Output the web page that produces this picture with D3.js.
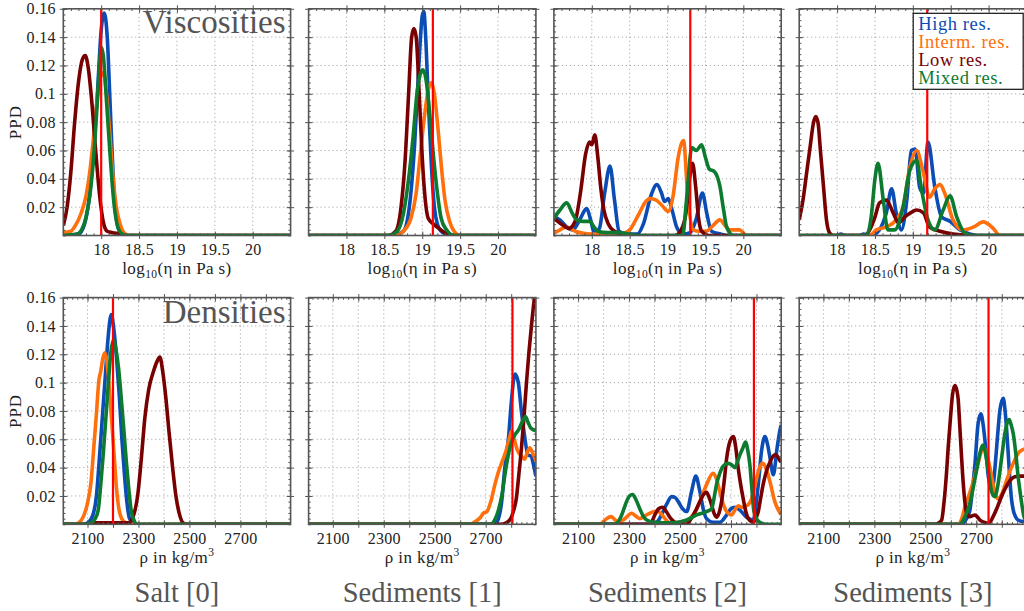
<!DOCTYPE html>
<html>
<head>
<meta charset="utf-8">
<script src="https://cdn.jsdelivr.net/npm/d3@7"></script>
<style>
  body { margin: 0; background: #fff; }
  svg { display: block; font-family: "Liberation Serif", serif; }
  .tick text { font-family: "Liberation Serif", serif; }
</style>
</head>
<body>
<div id="container"></div>
<script>
// series order: High, Interm., Low, Mixed resolution
var seriesNames = ["High res.", "Interm. res.", "Low res.", "Mixed res."];
var seriesColors = ["#0b4cb5", "#ff6f0c", "#780000", "#0c7b2f"];
var layerNames = ["Salt [0]", "Sediments [1]", "Sediments [2]", "Sediments [3]"];

var viscTicks = [18, 18.5, 19, 19.5, 20];
var densTicks = [2100, 2200, 2300, 2400, 2500, 2600, 2700, 2800];
var ppdTicks = [0.02, 0.04, 0.06, 0.08, 0.1, 0.12, 0.14, 0.16];

// true values (red lines)
var viscTrue = [18.0, 19.14, 19.3, 19.19];
var densTrue = [2200, 2805, 2790, 2748];

// viscosity PPDs, log10(eta)
var viscSalt = [
  [[17.5,0],[17.7,0.001],[17.78,0.008],[17.85,0.03],[17.9,0.06],[17.95,0.1],[18.0,0.145],[18.04,0.157],[18.08,0.14],[18.12,0.09],[18.16,0.04],[18.2,0.012],[18.25,0.002],[18.3,0],[20.5,0]],
  [[17.5,0.002],[17.6,0.003],[17.67,0.008],[17.73,0.015],[17.8,0.028],[17.85,0.045],[17.9,0.07],[17.95,0.097],[17.99,0.112],[18.03,0.115],[18.07,0.1],[18.11,0.075],[18.15,0.045],[18.2,0.02],[18.25,0.008],[18.3,0.002],[18.36,0],[20.5,0]],
  [[17.5,0.007],[17.55,0.02],[17.6,0.045],[17.65,0.08],[17.7,0.108],[17.75,0.124],[17.79,0.127],[17.83,0.118],[17.88,0.092],[17.93,0.058],[17.98,0.028],[18.03,0.009],[18.08,0.003],[18.15,0.002],[18.25,0.001],[18.32,0],[20.5,0]],
  [[17.5,0],[17.68,0.001],[17.75,0.005],[17.8,0.013],[17.85,0.028],[17.9,0.055],[17.95,0.095],[17.98,0.122],[18.0,0.133],[18.03,0.126],[18.07,0.095],[18.12,0.055],[18.17,0.022],[18.22,0.006],[18.28,0.001],[18.35,0],[20.5,0]]
];
var viscSed1 = [
  [[17.5,0],[18.6,0],[18.75,0.003],[18.8,0.01],[18.85,0.03],[18.9,0.065],[18.95,0.115],[19.0,0.155],[19.02,0.158],[19.05,0.135],[19.08,0.095],[19.12,0.05],[19.16,0.02],[19.2,0.008],[19.25,0.003],[19.32,0.001],[19.4,0],[20.5,0]],
  [[17.5,0],[18.65,0],[18.75,0.003],[18.85,0.012],[18.92,0.03],[18.97,0.055],[19.02,0.08],[19.07,0.1],[19.12,0.108],[19.16,0.1],[19.2,0.08],[19.25,0.05],[19.3,0.025],[19.36,0.01],[19.42,0.003],[19.5,0],[20.5,0]],
  [[17.5,0],[18.55,0],[18.65,0.003],[18.72,0.02],[18.77,0.05],[18.82,0.1],[18.86,0.14],[18.89,0.146],[18.92,0.14],[18.96,0.1],[19.0,0.055],[19.04,0.025],[19.08,0.012],[19.15,0.008],[19.22,0.005],[19.3,0.002],[19.4,0],[20.5,0]],
  [[17.5,0],[18.55,0],[18.67,0.003],[18.75,0.015],[18.82,0.04],[18.88,0.07],[18.93,0.1],[18.98,0.115],[19.01,0.117],[19.05,0.11],[19.1,0.085],[19.15,0.055],[19.2,0.03],[19.25,0.012],[19.32,0.004],[19.42,0],[20.5,0]]
];
var viscSed2 = [
  [[17.5,0.013],[17.58,0.011],[17.67,0.006],[17.75,0.004],[17.85,0.012],[17.93,0.019],[17.99,0.01],[18.03,0.002],[18.1,0.005],[18.17,0.03],[18.24,0.049],[18.3,0.025],[18.36,0.003],[18.45,0.001],[18.6,0.001],[18.68,0.008],[18.78,0.028],[18.86,0.036],[18.92,0.03],[18.96,0.024],[19.01,0.026],[19.06,0.018],[19.12,0.006],[19.2,0.001],[19.3,0.002],[19.38,0.012],[19.46,0.03],[19.52,0.015],[19.58,0.003],[19.7,0.001],[19.8,0],[20.5,0]],
  [[17.5,0.0015],[17.58,0.004],[17.67,0.006],[17.78,0.003],[17.89,0.0015],[18.0,0.001],[18.37,0.001],[18.5,0.004],[18.57,0.01],[18.63,0.016],[18.7,0.023],[18.77,0.026],[18.85,0.025],[18.93,0.021],[19.01,0.017],[19.07,0.027],[19.14,0.055],[19.21,0.067],[19.27,0.025],[19.34,0.004],[19.42,0.003],[19.51,0.003],[19.6,0.007],[19.69,0.011],[19.76,0.007],[19.82,0.004],[19.95,0.004],[20.04,0],[20.5,0]],
  [[17.5,0.012],[17.6,0.008],[17.7,0.005],[17.78,0.01],[17.85,0.03],[17.92,0.058],[17.97,0.066],[18.0,0.064],[18.04,0.071],[18.08,0.055],[18.12,0.033],[18.16,0.018],[18.22,0.008],[18.3,0.003],[18.4,0.001],[18.5,0],[19.1,0],[19.18,0.004],[19.24,0.015],[19.29,0.04],[19.33,0.051],[19.37,0.035],[19.41,0.012],[19.45,0.003],[19.55,0],[20.5,0]],
  [[17.5,0.012],[17.58,0.018],[17.67,0.023],[17.74,0.016],[17.8,0.011],[17.88,0.01],[17.97,0.01],[18.03,0.006],[18.08,0.003],[18.2,0.002],[18.33,0.002],[18.5,0.001],[18.6,0],[19.2,0],[19.25,0.025],[19.32,0.062],[19.38,0.06],[19.45,0.064],[19.5,0.055],[19.55,0.047],[19.62,0.045],[19.69,0.035],[19.74,0.018],[19.78,0.006],[19.87,0],[20.5,0]]
];
var viscSed3 = [
  [[17.5,0],[18.0,0],[18.05,0.001],[18.1,0],[18.3,0],[18.35,0.001],[18.42,0],[18.5,0.001],[18.56,0.004],[18.65,0.016],[18.72,0.033],[18.78,0.016],[18.85,0.004],[18.92,0.025],[18.98,0.06],[19.03,0.061],[19.09,0.034],[19.14,0.03],[19.2,0.066],[19.29,0.034],[19.38,0.013],[19.49,0.01],[19.62,0.004],[19.75,0.001],[19.85,0],[20.5,0]],
  [[17.5,0],[18.43,0],[18.52,0.004],[18.65,0.006],[18.78,0.011],[18.87,0.02],[18.96,0.048],[19.05,0.06],[19.14,0.044],[19.22,0.027],[19.29,0.033],[19.36,0.036],[19.42,0.03],[19.53,0.011],[19.66,0.004],[19.8,0.006],[19.93,0.0096],[20.06,0.005],[20.15,0],[20.5,0]],
  [[17.5,0.011],[17.55,0.025],[17.6,0.045],[17.65,0.065],[17.69,0.08],[17.72,0.084],[17.75,0.079],[17.78,0.06],[17.82,0.035],[17.86,0.011],[17.9,0.002],[17.95,0],[18.37,0],[18.43,0.004],[18.5,0.013],[18.56,0.023],[18.65,0.025],[18.74,0.016],[18.81,0.009],[18.89,0.013],[18.97,0.016],[19.05,0.018],[19.14,0.016],[19.22,0.006],[19.36,0.003],[19.53,0.001],[19.8,0],[20.5,0]],
  [[17.5,0],[18.39,0],[18.45,0.013],[18.5,0.04],[18.54,0.051],[18.61,0.025],[18.67,0.004],[18.76,0.004],[18.87,0.02],[18.96,0.046],[19.05,0.053],[19.11,0.034],[19.2,0.011],[19.29,0.004],[19.4,0.018],[19.49,0.028],[19.58,0.013],[19.69,0.0015],[19.8,0],[20.5,0]]
];

// density PPDs, kg/m3
var densSalt = [
  [[2005,0],[2085,0],[2100,0.001],[2120,0.006],[2135,0.02],[2148,0.05],[2160,0.08],[2170,0.105],[2180,0.13],[2193,0.148],[2205,0.135],[2215,0.115],[2225,0.09],[2235,0.06],[2245,0.035],[2255,0.015],[2265,0.004],[2280,0.001],[2290,0],[2897,0]],
  [[2005,0],[2050,0],[2065,0.001],[2085,0.006],[2100,0.015],[2114,0.03],[2125,0.055],[2135,0.078],[2145,0.102],[2152,0.108],[2160,0.117],[2168,0.121],[2176,0.115],[2184,0.1],[2194,0.075],[2204,0.05],[2214,0.025],[2224,0.01],[2234,0.004],[2250,0.001],[2270,0],[2897,0]],
  [[2005,0],[2100,0],[2120,0.001],[2260,0.001],[2280,0.006],[2298,0.022],[2312,0.048],[2325,0.075],[2340,0.095],[2359,0.108],[2373,0.115],[2384,0.118],[2395,0.108],[2407,0.09],[2420,0.065],[2434,0.04],[2447,0.02],[2461,0.007],[2475,0.001],[2490,0],[2897,0]],
  [[2005,0],[2100,0],[2115,0.001],[2130,0.004],[2142,0.01],[2152,0.028],[2162,0.05],[2172,0.075],[2182,0.1],[2192,0.122],[2202,0.13],[2212,0.123],[2222,0.11],[2232,0.09],[2242,0.068],[2252,0.045],[2262,0.025],[2272,0.009],[2282,0.003],[2295,0],[2897,0]]
];
var densSed1 = [
  [[2005,0],[2735,0],[2750,0.004],[2762,0.015],[2775,0.04],[2790,0.062],[2800,0.085],[2815,0.106],[2828,0.1],[2840,0.08],[2852,0.063],[2866,0.049],[2878,0.048],[2890,0.04],[2897,0.034]],
  [[2005,0],[2640,0],[2660,0.002],[2680,0.005],[2692,0.008],[2705,0.009],[2720,0.016],[2736,0.028],[2750,0.037],[2764,0.044],[2780,0.052],[2792,0.06],[2802,0.066],[2812,0.06],[2825,0.052],[2840,0.048],[2852,0.046],[2862,0.05],[2873,0.054],[2885,0.05],[2897,0.045]],
  [[2005,0],[2760,0],[2780,0.001],[2798,0.004],[2810,0.01],[2820,0.018],[2830,0.035],[2840,0.053],[2850,0.075],[2860,0.1],[2870,0.122],[2880,0.141],[2890,0.158],[2897,0.168]],
  [[2005,0],[2720,0],[2735,0.003],[2750,0.01],[2765,0.022],[2777,0.037],[2790,0.05],[2805,0.06],[2818,0.064],[2830,0.067],[2845,0.073],[2856,0.076],[2866,0.072],[2877,0.068],[2897,0.066]]
];
var densSed2 = [
  [[2005,0],[2395,0],[2412,0.002],[2427,0.0066],[2447,0.014],[2467,0.0195],[2480,0.019],[2493,0.016],[2510,0.011],[2526,0.009],[2545,0.023],[2562,0.034],[2578,0.023],[2592,0.01],[2604,0.004],[2630,0.0014],[2656,0.0014],[2683,0.0066],[2700,0.011],[2715,0.012],[2735,0.01],[2761,0.005],[2787,0.003],[2807,0.028],[2820,0.052],[2833,0.062],[2845,0.055],[2853,0.047],[2866,0.035],[2881,0.054],[2894,0.068],[2897,0.07]],
  [[2005,0],[2185,0],[2200,0.002],[2212,0.004],[2231,0.0054],[2245,0.003],[2257,0.002],[2277,0.003],[2295,0.006],[2310,0.0078],[2325,0.006],[2342,0.004],[2362,0.006],[2382,0.0078],[2400,0.009],[2414,0.009],[2428,0.007],[2441,0.004],[2460,0.001],[2499,0.001],[2520,0.002],[2539,0.004],[2560,0.009],[2578,0.016],[2604,0.028],[2630,0.036],[2643,0.032],[2656,0.023],[2670,0.014],[2683,0.009],[2702,0.0066],[2715,0.01],[2728,0.013],[2742,0.012],[2754,0.0125],[2768,0.014],[2781,0.018],[2790,0.024],[2800,0.032],[2812,0.04],[2826,0.043],[2840,0.038],[2853,0.03],[2872,0.016],[2889,0.009],[2897,0.007]],
  [[2005,0],[2380,0],[2390,0.002],[2401,0.0066],[2416,0.011],[2431,0.012],[2446,0.009],[2460,0.005],[2475,0.002],[2486,0.0007],[2526,0],[2540,0.003],[2552,0.0066],[2565,0.011],[2578,0.016],[2592,0.021],[2604,0.0226],[2614,0.019],[2624,0.0136],[2633,0.008],[2643,0.005],[2653,0.008],[2663,0.016],[2673,0.03],[2683,0.0466],[2695,0.058],[2709,0.062],[2718,0.055],[2728,0.04],[2738,0.028],[2748,0.018],[2758,0.009],[2768,0.004],[2787,0.0014],[2797,0.004],[2807,0.009],[2816,0.018],[2826,0.028],[2840,0.038],[2853,0.044],[2872,0.049],[2882,0.048],[2892,0.045],[2897,0.044]],
  [[2005,0],[2244,0],[2258,0.002],[2271,0.0066],[2280,0.011],[2290,0.016],[2302,0.02],[2314,0.021],[2328,0.017],[2342,0.011],[2355,0.006],[2369,0.003],[2401,0.0014],[2473,0.001],[2526,0.003],[2565,0.0066],[2604,0.009],[2624,0.011],[2633,0.018],[2643,0.028],[2656,0.036],[2669,0.041],[2689,0.043],[2702,0.042],[2715,0.04],[2725,0.044],[2735,0.049],[2747,0.054],[2757,0.058],[2766,0.052],[2774,0.042],[2782,0.025],[2790,0.009],[2800,0.004],[2813,0.0014],[2840,0],[2897,0]]
];
var densSed3 = [
  [[2005,0],[2640,0],[2649,0.001],[2662,0.004],[2675,0.01],[2685,0.025],[2695,0.043],[2707,0.071],[2718,0.078],[2727,0.07],[2734,0.059],[2747,0.034],[2760,0.024],[2768,0.03],[2777,0.048],[2786,0.068],[2793,0.081],[2806,0.089],[2813,0.08],[2819,0.067],[2826,0.048],[2832,0.031],[2838,0.018],[2845,0.01],[2855,0.005],[2864,0.003],[2887,0.002],[2897,0.002]],
  [[2005,0],[2630,0],[2643,0.004],[2655,0.012],[2668,0.019],[2682,0.0265],[2695,0.035],[2707,0.043],[2717,0.05],[2727,0.055],[2735,0.052],[2743,0.048],[2752,0.041],[2760,0.034],[2767,0.027],[2773,0.022],[2786,0.018],[2796,0.02],[2806,0.024],[2815,0.029],[2825,0.034],[2835,0.039],[2845,0.043],[2855,0.047],[2864,0.05],[2876,0.052],[2887,0.053],[2897,0.054]],
  [[2005,0],[2540,0],[2552,0.001],[2564,0.003],[2573,0.015],[2583,0.036],[2590,0.055],[2599,0.076],[2607,0.092],[2616,0.098],[2623,0.095],[2629,0.088],[2635,0.07],[2642,0.048],[2650,0.026],[2662,0.0078],[2675,0.0054],[2685,0.006],[2695,0.0066],[2705,0.005],[2714,0.003],[2730,0.0015],[2747,0.0007],[2756,0.002],[2766,0.0054],[2780,0.011],[2793,0.017],[2810,0.024],[2825,0.029],[2838,0.032],[2851,0.0336],[2870,0.034],[2884,0.034],[2897,0.034]],
  [[2005,0],[2635,0],[2649,0.003],[2662,0.008],[2675,0.015],[2688,0.026],[2701,0.038],[2714,0.05],[2727,0.056],[2735,0.051],[2743,0.043],[2752,0.032],[2760,0.023],[2773,0.0195],[2783,0.026],[2793,0.038],[2803,0.052],[2812,0.064],[2820,0.071],[2829,0.074],[2837,0.07],[2845,0.064],[2855,0.05],[2864,0.034],[2871,0.024],[2878,0.015],[2887,0.0054],[2897,0.002]]
];

var viscPanels = [viscSalt, viscSed1, viscSed2, viscSed3];
var densPanels = [densSalt, densSed1, densSed2, densSed3];

var width = 1024, height = 611;
var colLeft = 63.3, colStep = 245.3, panelW = 227.3;

var rows = [
  {top: 8.8, h: 226.7, domain: [17.5, 20.5], ticks: viscTicks, minorStep: 0.1,
   panels: viscPanels, truth: viscTrue, label: "log", title: "Viscosities",
   fmt: function(d){ return d; }},
  {top: 297.6, h: 226.7, domain: [2005, 2897], ticks: densTicks, minorStep: 20,
   panels: densPanels, truth: densTrue, label: "rho", title: "Densities",
   fmt: function(d){ return d % 200 === 100 ? d : ""; }}
];

var svg = d3.select("#container").append("svg")
            .attr("width", width).attr("height", height);

var y = d3.scaleLinear().domain([0, 0.16]);

rows.forEach(function(row, r){
  y.range([row.h, 0]);
  var yMinor = d3.range(0, 0.1601, 0.004);

  row.panels.forEach(function(series, c){
    var left = colLeft + c * colStep;
    var g = svg.append("g").attr("transform", "translate(" + left + "," + row.top + ")");
    var x = d3.scaleLinear().domain(row.domain).range([0, panelW]);
    var xMinor = d3.range(Math.ceil(row.domain[0] / row.minorStep) * row.minorStep, row.domain[1], row.minorStep);

    // grid
    var grid = g.append("g").attr("stroke", "#9a9a9a").attr("stroke-width", 1)
                .attr("stroke-dasharray", "1,3");
    grid.selectAll(".gx").data(row.ticks).enter().append("line")
        .attr("x1", function(d){ return x(d); }).attr("x2", function(d){ return x(d); })
        .attr("y1", 0).attr("y2", row.h);
    grid.selectAll(".gy").data(ppdTicks).enter().append("line")
        .attr("x1", 0).attr("x2", panelW)
        .attr("y1", function(d){ return y(d); }).attr("y2", function(d){ return y(d); });

    // curves
    var clipId = "clip" + r + c;
    g.append("clipPath").attr("id", clipId).append("rect")
     .attr("x", 0).attr("y", 0).attr("width", panelW).attr("height", row.h);

    var line = d3.line()
                 .x(function(d){ return x(d[0]); })
                 .y(function(d){ return y(d[1]); })
                 .curve(d3.curveMonotoneX);

    var curves = g.append("g").attr("clip-path", "url(#" + clipId + ")");
    curves.selectAll("path").data(series).enter().append("path")
          .attr("d", line)
          .attr("fill", "none")
          .attr("stroke", function(d, i){ return seriesColors[i]; })
          .attr("stroke-width", 3.6)
          .attr("stroke-linejoin", "round");

    curves.append("line")
          .attr("x1", x(row.truth[c])).attr("x2", x(row.truth[c]))
          .attr("y1", 0).attr("y2", row.h)
          .attr("stroke", "#ff0000").attr("stroke-width", 2.2);

    // axes: major ticks crossing the frame, minor ticks inside
    var bottom = g.append("g").attr("transform", "translate(0," + row.h + ")");
    bottom.call(d3.axisBottom(x).tickValues(row.ticks).tickSize(3.5).tickPadding(5).tickFormat(row.fmt));
    bottom.append("g").call(d3.axisBottom(x).tickValues(row.ticks).tickSize(-4).tickFormat(""));
    bottom.append("g").call(d3.axisBottom(x).tickValues(xMinor).tickSize(-2.2).tickFormat(""));
    var top = g.append("g");
    top.call(d3.axisTop(x).tickValues(row.ticks).tickSize(3.5).tickFormat(""));
    top.append("g").call(d3.axisTop(x).tickValues(row.ticks).tickSize(-4).tickFormat(""));
    top.append("g").call(d3.axisTop(x).tickValues(xMinor).tickSize(-2.2).tickFormat(""));

    var leftAx = g.append("g");
    leftAx.call(d3.axisLeft(y).tickValues(ppdTicks).tickSize(3.5).tickPadding(4)
                  .tickFormat(c === 0 ? d3.format("~g") : ""));
    leftAx.append("g").call(d3.axisLeft(y).tickValues(ppdTicks).tickSize(-4).tickFormat(""));
    leftAx.append("g").call(d3.axisLeft(y).tickValues(yMinor).tickSize(-2.2).tickFormat(""));
    var rightAx = g.append("g").attr("transform", "translate(" + panelW + ",0)");
    rightAx.call(d3.axisRight(y).tickValues(ppdTicks).tickSize(3.5).tickFormat(""));
    rightAx.append("g").call(d3.axisRight(y).tickValues(ppdTicks).tickSize(-4).tickFormat(""));
    rightAx.append("g").call(d3.axisRight(y).tickValues(yMinor).tickSize(-2.2).tickFormat(""));

    g.selectAll(".domain").remove();
    g.selectAll(".tick line").attr("stroke", "#555").attr("stroke-width", 1);
    g.selectAll(".tick text").attr("fill", "#222").style("font-size", "16px")
     .style("letter-spacing", "0.3px");

    g.append("rect").attr("width", panelW).attr("height", row.h)
     .attr("fill", "none").attr("stroke", "#555").attr("stroke-width", 1.6);

    // x axis label
    var xl = g.append("text").attr("x", panelW / 2).attr("y", row.h + 38.5)
              .attr("text-anchor", "middle").attr("fill", "#222")
              .style("font-size", "17px").style("letter-spacing", "0.4px");
    if (row.label === "log") {
      xl.append("tspan").text("log");
      xl.append("tspan").text("10").attr("dy", 4).style("font-size", "11.5px");
      xl.append("tspan").text("(\u03b7 in Pa s)").attr("dy", -4);
    } else {
      xl.append("tspan").text("\u03c1 in kg/m");
      xl.append("tspan").text("3").attr("dy", -7).style("font-size", "11.5px");
    }

    if (c === 0) {
      g.append("text").attr("x", panelW - 5).attr("y", r === 0 ? 24.5 : 24.9)
       .attr("text-anchor", "end").attr("fill", "#555").style("font-size", "33px")
       .text(row.title);
      g.append("text").attr("transform", "translate(-42," + (row.h / 2) + ") rotate(-90)")
       .attr("text-anchor", "middle").attr("fill", "#222").style("font-size", "17px")
       .style("letter-spacing", "1px")
       .text("PPD");
    }

    if (r === 1) {
      g.append("text").attr("x", panelW / 2).attr("y", row.h + 78)
       .attr("text-anchor", "middle").attr("fill", "#555").style("font-size", "28.5px")
       .text(layerNames[c]);
    }

    // legend in the last top panel
    if (r === 0 && c === 3) {
      var lg = g.append("g").attr("transform", "translate(114,4.5)");
      lg.append("rect").attr("width", 110).attr("height", 76)
        .attr("fill", "#fff").attr("stroke", "#111").attr("stroke-width", 1.2);
      lg.selectAll("text").data(seriesNames).enter().append("text")
        .attr("x", 5).attr("y", function(d, i){ return 16.5 + i * 18; })
        .attr("fill", function(d, i){ return seriesColors[i]; })
        .style("font-size", "18.5px").style("letter-spacing", "0.6px")
        .text(function(d){ return d; });
    }
  });
});
</script>
</body>
</html>
